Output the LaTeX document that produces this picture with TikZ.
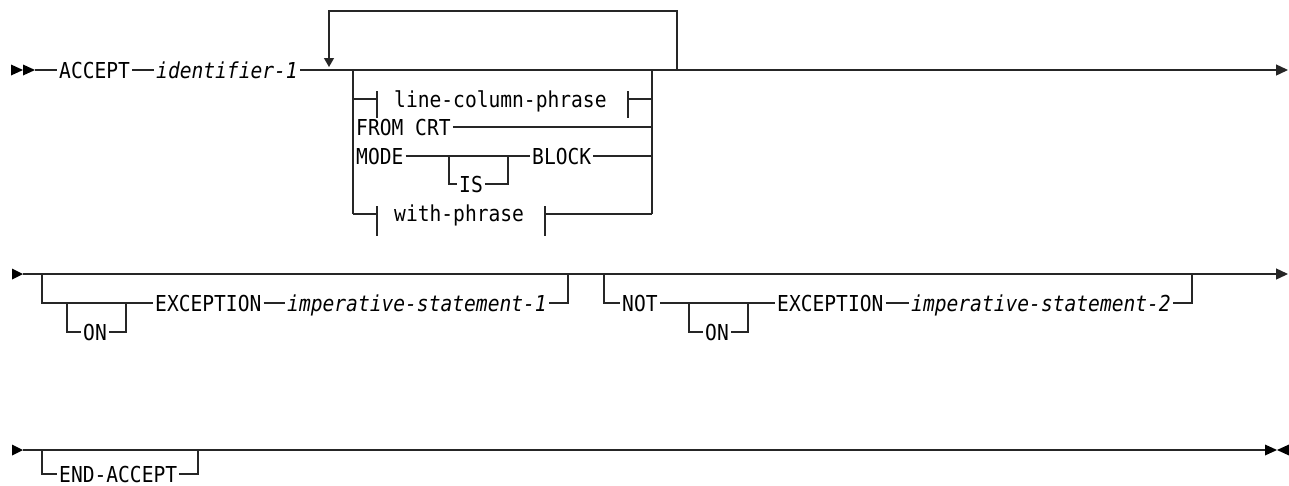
\documentclass[tikz,border=0pt]{standalone}
\usepackage{fontspec}
\setmonofont{DejaVu Sans Mono}
\usetikzlibrary{arrows.meta}
\newcommand{\kwfont}{\ttfamily\fontsize{19.6pt}{20pt}\selectfont}
\newcommand{\tall}[1]{\scalebox{1}[1.12]{#1}}
\tikzset{
  kw/.style={font=\kwfont, inner xsep=2pt, inner ysep=0pt, text height=16pt, text depth=0pt, anchor=west},
  var/.style={kw, font=\kwfont\itshape},
  rr/.style={line width=1.3pt, draw=black!85},
  endarrow/.style={rr, -{Triangle[length=12pt,width=11pt]}},
  tip/.style={fill=black}
}
\begin{document}
\begin{tikzpicture}[x=1pt,y=-1pt]
\useasboundingbox (0,0) rectangle (1289,485);

% ---------------- Row 1 ----------------
\fill[tip] (11,64.5) -- (23,70) -- (11,75.5) -- cycle;
\fill[tip] (23,64.5) -- (35,70) -- (23,75.5) -- cycle;
\coordinate (s1) at (35,70);
\node[kw]  (acc) at (57,70)  {\tall{ACCEPT}};
\node[var] (id1) at (154,70) {\tall{identifier-1}};
\coordinate (e1) at (1288,70);
\draw[rr] (s1) -- (acc.west);
\draw[rr] (acc.east) -- (id1.west);
\draw[endarrow] (id1.east) -- (e1);

% repeat loop
\coordinate (lpR) at (677,70);
\coordinate (lpTop) at (329,11);
\coordinate (lpL) at (329,67);
\draw[rr, -{Triangle[length=9pt,width=10pt]}] (lpR) |- (lpTop) -- (lpL);

% choice group
\coordinate (gL) at (353,70);
\coordinate (gR) at (652,70);
\coordinate (gLb) at (353,214);
\coordinate (gRb) at (652,214);
\draw[rr] (gL) -- (gLb);
\draw[rr] (gR) -- (gRb);

% line-column-phrase
\node[kw] (lcp) at (392,99) {\tall{line-column-phrase}};
\coordinate (lcpA) at (377,99);
\coordinate (lcpB) at (628,99);
\draw[rr] (gL |- lcpA) -- (lcpA);
\draw[rr] (377,91) -- (377,118);
\draw[rr] (628,91) -- (628,118);
\draw[rr] (lcpB) -- (gR |- lcpB);

% FROM CRT
\node[kw] (from) at (354,127) {\tall{FROM CRT}};
\draw[rr] (gL |- from.west) -- (from.west);
\draw[rr] (from.east) -- (gR |- from.east);

% MODE [IS] BLOCK
\node[kw] (mode)  at (354,156) {\tall{MODE}};
\node[kw] (is)    at (457,184) {\tall{IS}};
\node[kw] (block) at (530,156) {\tall{BLOCK}};
\coordinate (isL) at (449,156);
\coordinate (isR) at (508,156);
\draw[rr] (gL |- mode.west) -- (mode.west);
\draw[rr] (mode.east) -- (block.west);
\draw[rr] (isL) |- (is.west);
\draw[rr] (is.east) -| (isR);
\draw[rr] (block.east) -- (gR |- block.east);

% with-phrase
\node[kw] (with) at (392,213) {\tall{with-phrase}};
\coordinate (wA) at (377,214);
\coordinate (wB) at (545,214);
\draw[rr] (gLb) -- (wA);
\draw[rr] (377,206) -- (377,236);
\draw[rr] (545,206) -- (545,236);
\draw[rr] (wB) -- (gRb);

% ---------------- Row 2 ----------------
\fill[tip] (12,268.5) -- (23,274) -- (12,279.5) -- cycle;
\coordinate (s2) at (23,274);
\coordinate (e2) at (1288,274);
\draw[endarrow] (s2) -- (e2);

% ON EXCEPTION
\coordinate (b1L) at (42,274);
\coordinate (b1R) at (568,274);
\node[kw]  (exc1) at (153,303) {\tall{EXCEPTION}};
\node[kw]  (on1)  at (81,332)  {\tall{ON}};
\node[var] (imp1) at (285,303) {\tall{imperative-statement-1}};
\coordinate (on1L) at (67,303);
\coordinate (on1R) at (126,303);
\draw[rr] (b1L) |- (exc1.west);
\draw[rr] (on1L) |- (on1.west);
\draw[rr] (on1.east) -| (on1R);
\draw[rr] (exc1.east) -- (imp1.west);
\draw[rr] (imp1.east) -| (b1R);

% NOT ON EXCEPTION
\coordinate (b2L) at (604,274);
\coordinate (b2R) at (1192,274);
\node[kw]  (not)  at (620,303) {\tall{NOT}};
\node[kw]  (exc2) at (775,303) {\tall{EXCEPTION}};
\node[kw]  (on2)  at (703,332) {\tall{ON}};
\node[var] (imp2) at (909,303) {\tall{imperative-statement-2}};
\coordinate (on2L) at (689,303);
\coordinate (on2R) at (748,303);
\draw[rr] (b2L) |- (not.west);
\draw[rr] (not.east) -- (exc2.west);
\draw[rr] (on2L) |- (on2.west);
\draw[rr] (on2.east) -| (on2R);
\draw[rr] (exc2.east) -- (imp2.west);
\draw[rr] (imp2.east) -| (b2R);

% ---------------- Row 3 ----------------
\fill[tip] (12,444.5) -- (23,450) -- (12,455.5) -- cycle;
\coordinate (s3) at (23,450);
\coordinate (e3) at (1265,450);
\draw[rr] (s3) -- (e3);
\fill[tip] (1265,444.5) -- (1277,450) -- (1265,455.5) -- cycle;
\fill[tip] (1289,444.5) -- (1277,450) -- (1289,455.5) -- cycle;

\coordinate (b3L) at (42,450);
\coordinate (b3R) at (198,450);
\node[kw] (endacc) at (57,474) {\tall{END-ACCEPT}};
\draw[rr] (b3L) |- (endacc.west);
\draw[rr] (endacc.east) -| (b3R);
\end{tikzpicture}
\end{document}
